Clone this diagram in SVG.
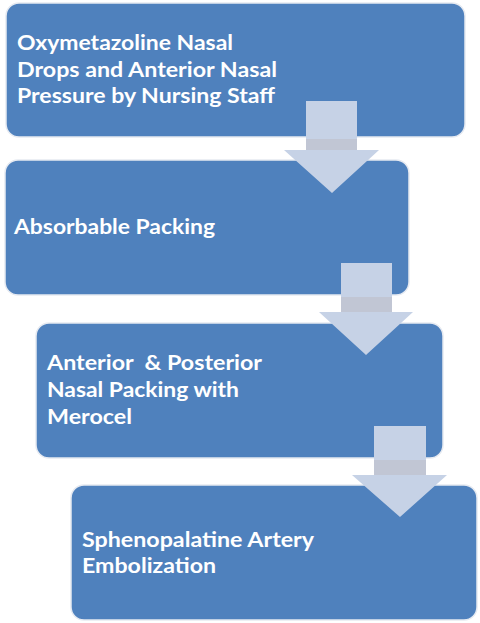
<svg xmlns="http://www.w3.org/2000/svg" width="480" height="623" viewBox="0 0 480 623">
<style>
.box{fill:#4F81BD;stroke:#E6EAF1;stroke-width:1.5}
.arr{fill:#C6D2E6}
.dark{fill:#C1C6D4}
.t{font-family:Lato,"Open Sans","Liberation Sans",sans-serif;font-weight:bold;font-size:21px;fill:#FFFFFF}
</style>
<rect width="480" height="623" fill="#FFFFFF"/>
<g id="node1"><rect class="box" x="6" y="3" width="459" height="134" rx="13"/>
<text class="t" x="17" y="50" textLength="216" lengthAdjust="spacingAndGlyphs">Oxymetazoline Nasal</text>
<text class="t" x="17" y="77" textLength="260" lengthAdjust="spacingAndGlyphs">Drops and Anterior Nasal</text>
<text class="t" x="17" y="103" textLength="258" lengthAdjust="spacingAndGlyphs">Pressure by Nursing Staff</text></g>
<g id="node2"><rect class="box" x="5" y="160" width="404" height="135" rx="13"/>
<text class="t" x="14" y="234" textLength="201" lengthAdjust="spacingAndGlyphs">Absorbable Packing</text></g>
<g id="node3"><rect class="box" x="36" y="323" width="407" height="135" rx="13"/>
<text class="t" x="47" y="370" textLength="215" lengthAdjust="spacingAndGlyphs" xml:space="preserve">Anterior  &amp; Posterior</text>
<text class="t" x="47" y="397" textLength="192" lengthAdjust="spacingAndGlyphs">Nasal Packing with</text>
<text class="t" x="47" y="424" textLength="85" lengthAdjust="spacingAndGlyphs">Merocel</text></g>
<g id="node4"><rect class="box" x="71" y="485" width="406" height="135" rx="13"/>
<text class="t" x="82" y="547" textLength="232" lengthAdjust="spacingAndGlyphs">Sphenopalatine Artery</text>
<text class="t" x="82" y="573" textLength="134" lengthAdjust="spacingAndGlyphs">Embolization</text></g>
<g id="connectors">
<path class="arr" d="M306,101 H357 V150 H379 L332,193 L284,150 H306 Z"/>
<rect class="dark" x="306" y="139" width="51" height="11"/>
<path class="arr" d="M341,263 H392 V312 H413 L366,355 L319,312 H341 Z"/>
<rect class="dark" x="341" y="297" width="51" height="15"/>
<path class="arr" d="M374,426 H426 V475 H447 L400,517 L352,475 H374 Z"/>
<rect class="dark" x="374" y="460" width="52" height="15"/>
</g>
</svg>
